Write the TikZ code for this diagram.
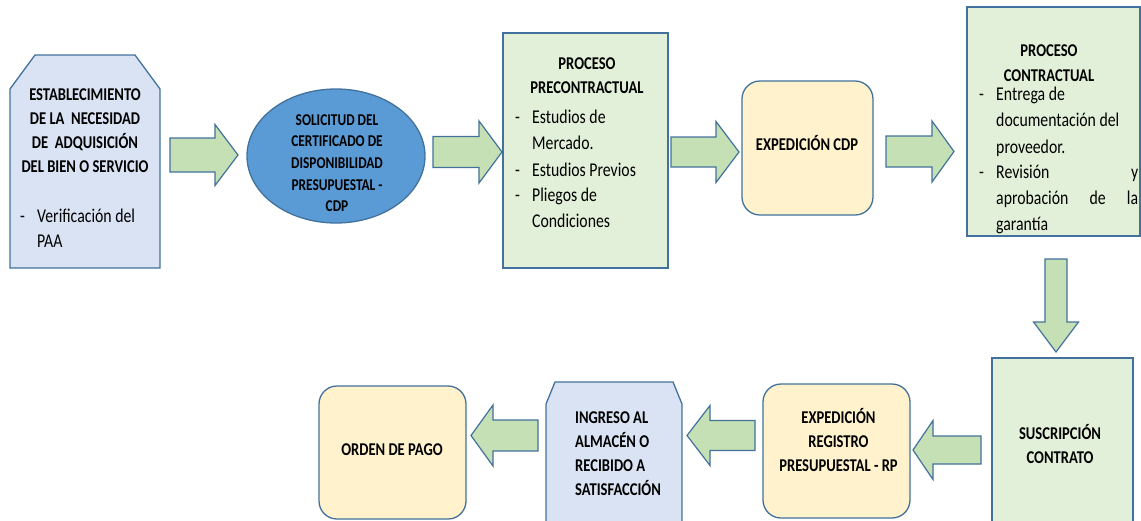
\documentclass[tikz,border=0pt]{standalone}
\usepackage{fontspec}
\setmainfont{Carlito}[FakeStretch=0.81]
\usetikzlibrary{shapes.geometric}
\definecolor{borde}{HTML}{41719C}
\definecolor{azulclaro}{HTML}{DAE3F3}
\definecolor{azul}{HTML}{5B9BD5}
\definecolor{verdeclaro}{HTML}{E2F0D9}
\definecolor{verde}{HTML}{C5E0B4}
\definecolor{crema}{HTML}{FFF2CC}
\tikzset{
  caja/.style={draw=borde, line width=1.3pt, inner sep=0pt},
  cajacorte/.style={draw=borde, line width=1.3pt, fill=azulclaro, line join=miter},
  flecha/.style={draw=borde, line width=1.2pt, fill=verde, line join=miter},
  titulo/.style={inner sep=0pt, anchor=base, font=\fontsize{18}{22}\selectfont\bfseries},
  tituloch/.style={titulo, font=\fontsize{16.5}{19}\selectfont\bfseries},
  lista/.style={inner sep=0pt, anchor=base west, font=\fontsize{19.5}{23}\selectfont}
}

\begin{document}
\begin{tikzpicture}[x=1pt, y=-1pt]
				\useasboundingbox (0,0) rectangle (1141,520);
				\clip (0,0) rectangle (1141,520);
				% cajas
				\draw[cajacorte] (10,268) -- (10,89) -- (35,55) -- (135,55) -- (160,89) -- (160,268) -- cycle;
				\coordinate (establecimiento) at (85,161.5);
				\node[caja, ellipse, fill=azul, minimum width=178pt, minimum height=134pt] (solicitud) at (336,156) {};
				\node[caja, fill=verdeclaro, minimum width=165pt, minimum height=235pt] (precontractual) at (585.5,150.5) {};
				\node[caja, fill=crema, rounded corners=18pt, minimum width=131pt, minimum height=134pt] (cdp) at (807.5,148) {};
				\node[caja, fill=verdeclaro, minimum width=173pt, minimum height=229pt] (contractual) at (1053.5,121.5) {};
				\node[caja, fill=verdeclaro, minimum width=141pt, minimum height=170pt] (suscripcion) at (1062.5,443) {};
				\node[caja, fill=crema, rounded corners=18pt, minimum width=147pt, minimum height=134pt] (rp) at (836.5,451) {};
				\draw[cajacorte] (546,530) -- (546,404) -- (555,382) -- (673,382) -- (682,404) -- (682,530) -- cycle;
				\coordinate (ingreso) at (614,457);
				\node[caja, fill=crema, rounded corners=18pt, minimum width=147pt, minimum height=133pt] (orden) at (392.5,452.5) {};
				% flechas
				\foreach \a/\b/\c/\y/\hb/\hh in {170/215/238/155/17/30.5, 433/479/502/152/15.5/31,
					671/716/739/152/15/30.5, 886/932/954/151.5/15.5/30.5, 981/933/913/450/14/29.5,
					755/710/687/435.5/15/30, 538/493/471/435.5/15.5/30.5} {
					\draw[flecha] (\a,\y-\hb) -- (\b,\y-\hb) -- (\b,\y-\hh) -- (\c,\y) -- (\b,\y+\hh)
						-- (\b,\y+\hb) -- (\a,\y+\hb) -- cycle;
				}
				\draw[flecha] (1045,259) -- (1067,259) -- (1067,322) -- (1078.5,322) -- (1056,352)
					-- (1033.5,322) -- (1045,322) -- cycle;
				% textos
				\foreach \t [count=\i] in {ESTABLECIMIENTO, DE LA\ \ NECESIDAD, DE\ \ ADQUISICIÓN, DEL BIEN O SERVICIO}
					\node[titulo] (est\i) at (85,76.7+24*\i) {\t};
				\node[lista] (guionest) at (20,222.7) {-};
				\node[lista] (est5) at (37,222.7) {Verificación del};
				\node[lista] (est6) at (37,247) {PAA};
				\foreach \t [count=\i] in {SOLICITUD DEL, CERTIFICADO DE, DISPONIBILIDAD, PRESUPUESTAL -, CDP}
					\node[tituloch] (sol\i) at (337,103.3+21.7*\i) {\t};
				\node[titulo] (pre1) at (587,69) {PROCESO};
				\node[titulo] (pre2) at (587,93.3) {PRECONTRACTUAL};
				\foreach \y [count=\i] in {123.3,176,201.7}
					\node[lista] (guionpre\i) at (515,\y) {-};
				\foreach \t/\y [count=\i] in {Estudios de/123.3, Mercado./149.3, Estudios Previos/176,
					Pliegos de/201.7, Condiciones/227.7}
					\node[lista] (prel\i) at (532,\y) {\t};
				\node[titulo] (cdptxt) at (807,150) {EXPEDICIÓN CDP};
				\node[titulo] (con1) at (1049,56.7) {PROCESO};
				\node[titulo] (con2) at (1049,81.7) {CONTRACTUAL};
				\foreach \y [count=\i] in {100,178.3}
					\node[lista] (guioncon\i) at (979,\y) {-};
				\foreach \t/\y [count=\i] in {Entrega de/100, documentación del/126.7, proveedor./153.3,
					\hbox to 142pt{Revisión\hfill y}/178.3, \hbox to 142pt{aprobación\hfill de\hfill la}/204,
					garantía/230}
					\node[lista] (conl\i) at (996,\y) {\t};
				\node[titulo] (sus1) at (1060,439.3) {SUSCRIPCIÓN};
				\node[titulo] (sus2) at (1060,463.3) {CONTRATO};
				\foreach \t/\y [count=\i] in {EXPEDICIÓN/423.3, REGISTRO/447.3, PRESUPUESTAL - RP/471.7}
					\node[titulo] (rp\i) at (838.5,\y) {\t};
				\foreach \t/\y [count=\i] in {INGRESO AL/423.3, ALMACÉN O/447.3, RECIBIDO A/471.7, SATISFACCIÓN/495}
					\node[titulo, anchor=base west] (ing\i) at (575,\y) {\t};
				\node[titulo] (ordentxt) at (392,455) {ORDEN DE PAGO};
\end{tikzpicture}
\end{document}
